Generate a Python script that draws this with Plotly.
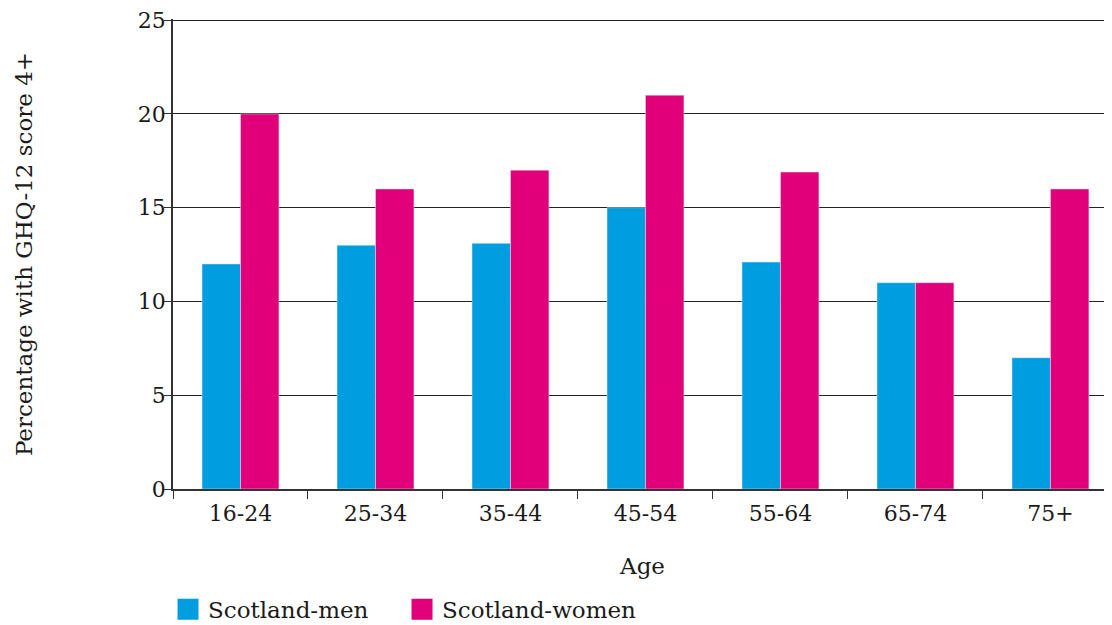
import plotly.graph_objects as go

ages = ["16-24", "25-34", "35-44", "45-54", "55-64", "65-74", "75+"]
men = [12, 13, 13.1, 15, 12.1, 11, 7]
women = [20, 16, 17, 21, 16.9, 11, 16]
y_ticks = [0, 5, 10, 15, 20, 25]

MEN_COLOR = "#009EE0"
WOMEN_COLOR = "#E2007A"
FONT = "DejaVu Serif"

fig = go.Figure()
fig.add_trace(go.Bar(x=ages, y=men, name="Scotland-men", marker_color=MEN_COLOR,
                     showlegend=False))
fig.add_trace(go.Bar(x=ages, y=women, name="Scotland-women", marker_color=WOMEN_COLOR,
                     showlegend=False))
# legend entries with larger squares
for name, col in [("Scotland-men", MEN_COLOR), ("Scotland-women", WOMEN_COLOR)]:
    fig.add_trace(go.Scatter(x=[None], y=[None], mode="markers", name=name,
                             marker=dict(symbol="square", size=16, color=col,
                                         line=dict(color=col, width=5))))

# page body has an 8px margin, so the figure is offset to line up with the window
fig.update_layout(
    width=1104, height=617,
    margin=dict(l=165, r=0, t=11, b=136, autoexpand=False),
    paper_bgcolor="white", plot_bgcolor="white",
    barmode="group", bargap=0.43, bargroupgap=0,
    font=dict(family=FONT, size=22, color="#1a1a1a"),
    legend=dict(orientation="h", x=-0.0053, xanchor="left", y=-0.256, yanchor="middle",
                font=dict(size=23), itemsizing="trace", entrywidth=189,
                bgcolor="rgba(0,0,0,0)"),
    xaxis=dict(range=[-0.5, 6.456], tickson="boundaries", ticks="outside",
               ticklen=8, tickcolor="#333", showline=True, linecolor="#333",
               linewidth=1.5, showgrid=False, automargin=False, ticklabelstandoff=4,
               ticklabeloverflow="allow",
               title=dict(text="Age", standoff=33, font=dict(size=23))),
    yaxis=dict(range=[0, 25.06], tickvals=y_ticks, ticks="outside", ticklen=7,
               tickcolor="#333", showline=True, linecolor="#333", linewidth=1.5,
               showgrid=True, gridcolor="#222", gridwidth=1, zeroline=False,
               automargin=False, ticklabelstandoff=-6, ticklabeloverflow="allow",
               title=dict(text="Percentage with GHQ-12 score 4+", standoff=99,
                          font=dict(size=23))),
)

fig.write_html("out.html")
